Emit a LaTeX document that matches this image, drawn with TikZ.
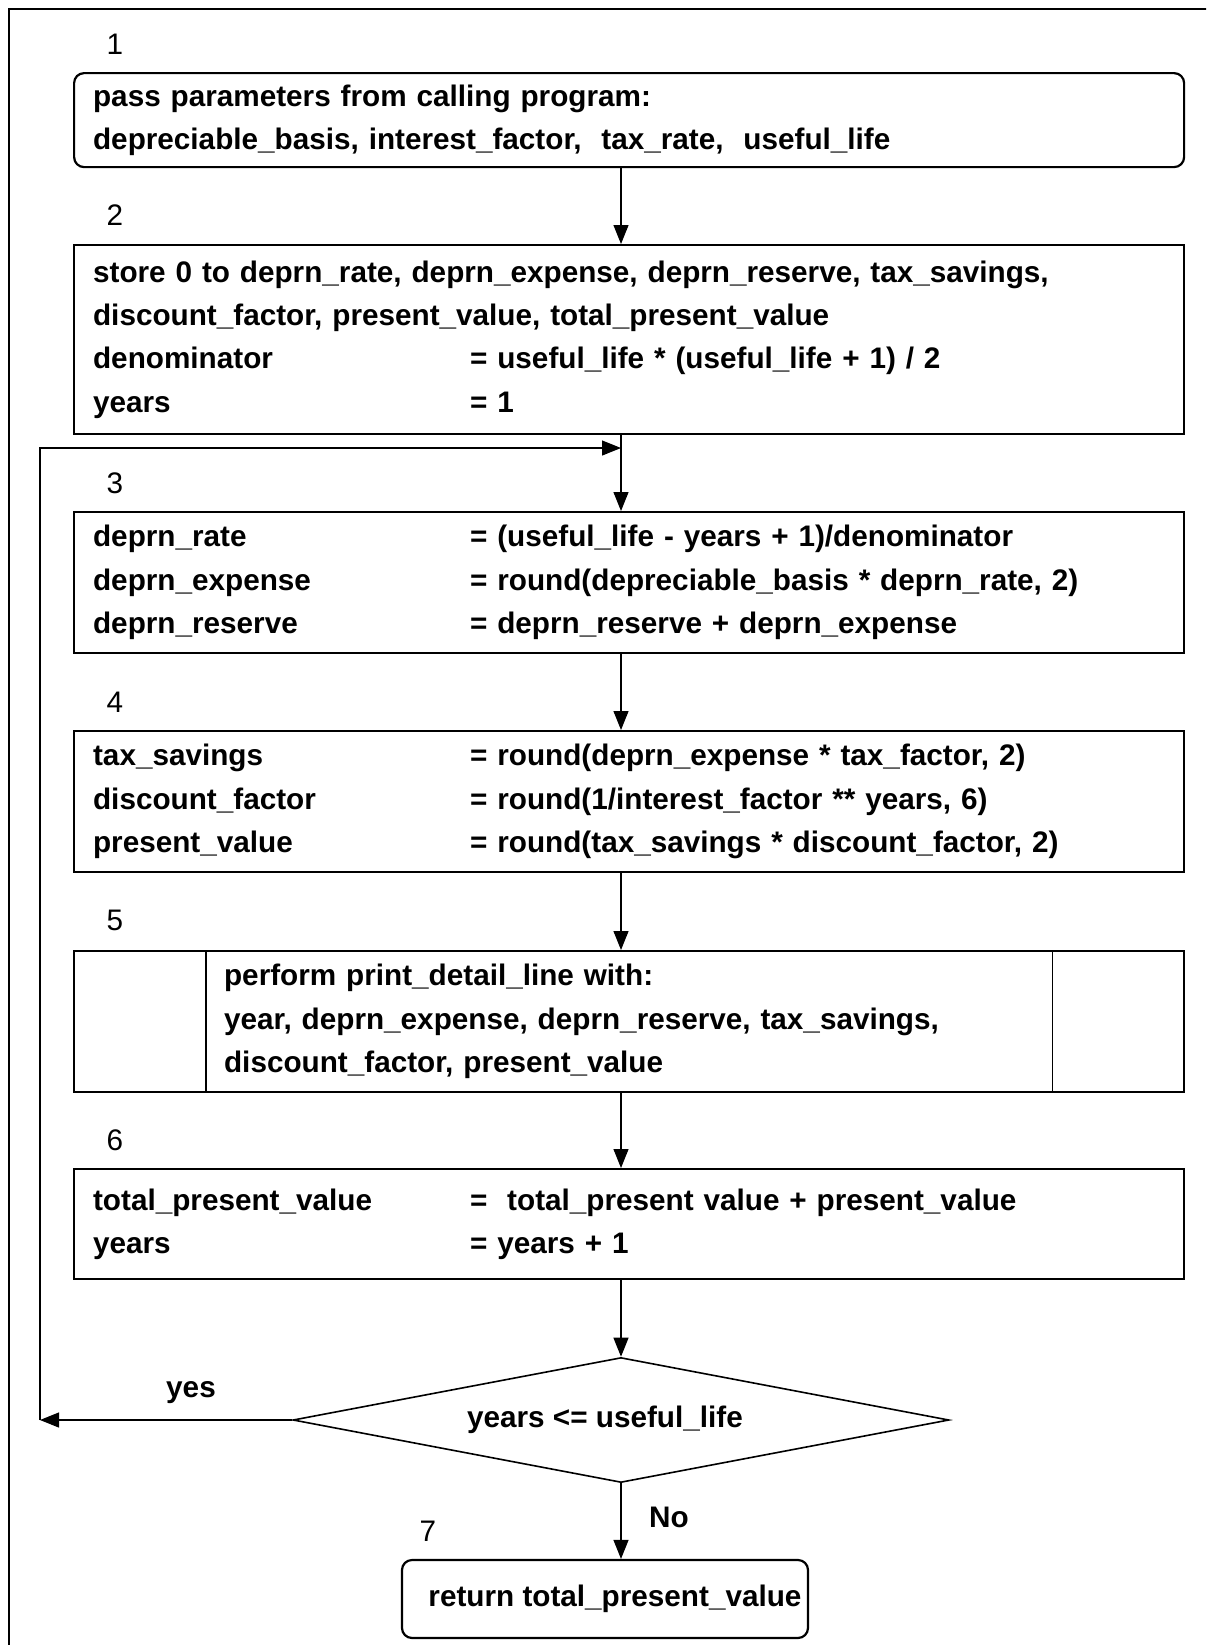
\documentclass[tikz,border=0pt]{standalone}
\usepackage{fontspec}
\setmainfont{Liberation Sans}
\usetikzlibrary{arrows.meta,shapes.geometric}
\newcommand\lcol[1]{\makebox[188.5pt][l]{#1}}
\begin{document}
\begin{tikzpicture}[x=0.5pt,y=-0.5pt,
  box/.style={draw,line width=1.1pt,minimum width=555pt,inner xsep=9.5pt,inner ysep=0pt,
    text width=536pt,align=left,anchor=north west,
    font=\bfseries\fontsize{14.85}{21.7}\selectfont},
  rbox/.style={box,rounded corners=5pt},
  endbox/.style={draw,line width=1.1pt,rounded corners=5pt,minimum width=203pt,minimum height=39pt,
    inner sep=0pt,font=\bfseries\fontsize{14.85}{17}\selectfont},
  numlabel/.style={font=\fontsize{14.85}{17}\selectfont,inner sep=0pt},
  blabel/.style={font=\bfseries\fontsize{14.85}{17}\selectfont,inner sep=0pt},
  conn/.style={line width=0.6pt,-{Triangle[length=9.5pt,width=7.5pt]}},
  line/.style={line width=0.6pt}]
\useasboundingbox (0,0) rectangle (1206,1645);
\clip (0,0) rectangle (1206,1645);
% frame
\draw[line width=0.8pt] (9,9) rectangle (1230,1670);

% labels
\node[numlabel] (n1) at (115,44) {1};
\node[numlabel] (n2) at (115,215) {2};
\node[numlabel] (n3) at (115,483) {3};
\node[numlabel] (n4) at (115,702) {4};
\node[numlabel] (n5) at (115,920) {5};
\node[numlabel] (n6) at (115,1140) {6};
\node[numlabel] (n7) at (428,1531) {7};

% boxes
\node[rbox,minimum height=47pt] (b1) at (73,72)
 {pass parameters from calling program:\\
  depreciable\_basis, interest\_factor,~ tax\_rate,~ useful\_life};
\node[box,minimum height=94.5pt] (b2) at (73,244)
 {store 0 to deprn\_rate, deprn\_expense, deprn\_reserve, tax\_savings,\\
  discount\_factor, present\_value, total\_present\_value\\
  \lcol{denominator}= useful\_life * (useful\_life + 1) / 2\\
  \lcol{years}= 1};
\node[box,minimum height=70.5pt] (b3) at (73,511)
 {\lcol{deprn\_rate}= (useful\_life - years + 1)/denominator\\
  \lcol{deprn\_expense}= round(depreciable\_basis * deprn\_rate, 2)\\
  \lcol{deprn\_reserve}= deprn\_reserve + deprn\_expense};
\node[box,minimum height=70.5pt] (b4) at (73,730)
 {\lcol{tax\_savings}= round(deprn\_expense * tax\_factor, 2)\\
  \lcol{discount\_factor}= round(1/interest\_factor ** years, 6)\\
  \lcol{present\_value}= round(tax\_savings * discount\_factor, 2)};
\node[box,minimum height=70.5pt,inner xsep=0pt,text width=405pt] (b5) at (73,950)
 {perform print\_detail\_line with:\\
  year, deprn\_expense, deprn\_reserve, tax\_savings,\\
  discount\_factor, present\_value};
\draw[line width=0.6pt] ([xshift=66.5pt]b5.north west) -- ([xshift=66.5pt]b5.south west);
\draw[line width=0.6pt] ([xshift=-66.5pt]b5.north east) -- ([xshift=-66.5pt]b5.south east);
\node[box,minimum height=55pt] (b6) at (73,1168)
 {\lcol{total\_present\_value}=~~total\_present value + present\_value\\
  \lcol{years}= years + 1};
\node[diamond,draw,line width=0.8pt,aspect=5.2,minimum width=328pt,minimum height=62.5pt,
  inner sep=0pt,font=\bfseries\fontsize{14.85}{17}\selectfont] (dec) at (621,1420)
 {years <= useful\_life\hspace*{16pt}};
\node[endbox] (b7) at (605,1599)
 {\hspace*{10pt}return total\_present\_value};

% branch labels
\node[blabel] (yes) at (191,1393) {yes};
\node[blabel] (no) at (669,1517) {No};

% connectors
\coordinate (loopbl) at (40,1420);
\coordinate (looptl) at (40,448);
\coordinate (merge) at (621,448);
\draw[conn] (b1.south -| 621,0) -- (b2.north -| 621,0);
\draw[line] (b2.south -| 621,0) -- (merge);
\draw[conn] (merge) -- (b3.north -| 621,0);
\draw[conn] (b3.south -| 621,0) -- (b4.north -| 621,0);
\draw[conn] (b4.south -| 621,0) -- (b5.north -| 621,0);
\draw[conn] (b5.south -| 621,0) -- (b6.north -| 621,0);
\draw[conn] (b6.south -| 621,0) -- (dec.north);
\draw[conn] (dec.west) -- (loopbl);
\draw[conn] (loopbl) -- (looptl) -- (merge);
\draw[conn] (dec.south) -- (dec.south |- b7.north);
\end{tikzpicture}
\end{document}
